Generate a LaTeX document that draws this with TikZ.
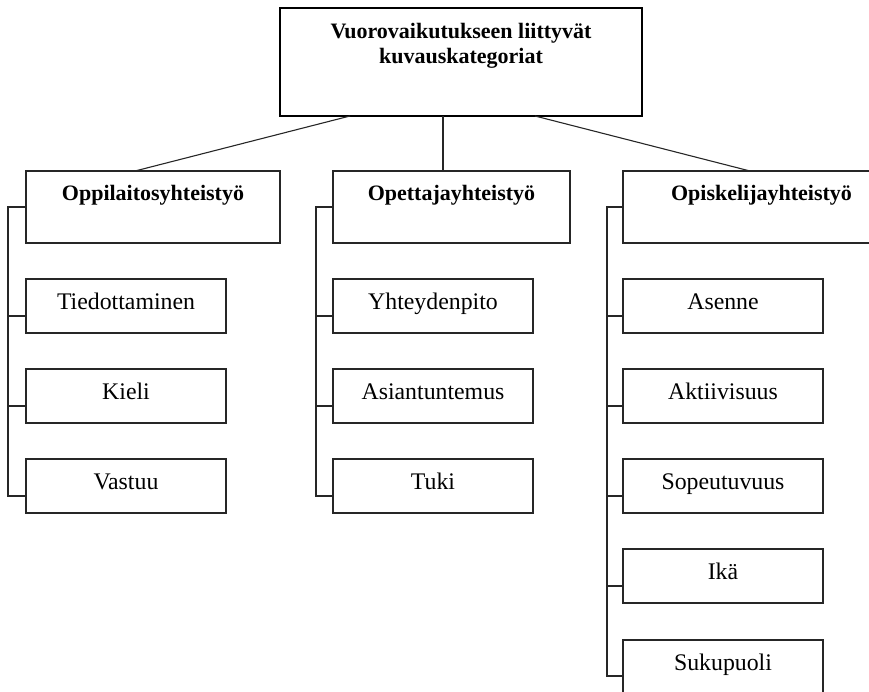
\documentclass[tikz,border=0pt]{standalone}
\usepackage{fontspec}
\setmainfont{Liberation Serif}
\begin{document}
\begin{tikzpicture}[x=1pt,y=-1pt,
  line join=miter,
  boxshape/.style={draw=black!85, line width=1.1pt, rectangle, inner sep=0pt, outer sep=0pt},
  topbox/.style={boxshape, line width=2.8pt, draw=black, minimum width=362pt, minimum height=108pt},
  groupbox/.style={boxshape, minimum height=72pt},
  itembox/.style={boxshape, minimum width=200pt, minimum height=54pt},
  txt/.style={anchor=base, inner sep=0pt, font=\fontsize{23.8}{27}\selectfont},
  btxt/.style={txt, font=\fontsize{22}{26}\selectfont\bfseries},
  wire/.style={draw=black!85, line width=1.1pt}]
\useasboundingbox (0,0) rectangle (869,691);
\clip (0,0) rectangle (869,691);

% main category
\node[topbox] (top) at (461,62) {};
\node[btxt] at ([yshift=-30pt]top.north) {Vuorovaikutukseen liittyvät};
\node[btxt] at ([yshift=-55pt]top.north) {kuvauskategoriat};

% three groups
\node[groupbox, minimum width=254pt] (A) at (153,207) {};
\node[groupbox, minimum width=237pt] (B) at (451.5,207) {};
\node[groupbox, minimum width=277pt] (C) at (761.5,207) {};
\node[btxt] at ([yshift=-29pt]A.north) {Oppilaitosyhteistyö};
\node[btxt] at ([yshift=-29pt]B.north) {Opettajayhteistyö};
\node[btxt] at ([yshift=-29pt]C.north) {Opiskelijayhteistyö};

% connectors from the main box
\draw[wire] ([xshift=-111pt]top.south) -- ([xshift=-18pt]A.north);
\draw[wire] ([xshift=-18pt]top.south) -- ([xshift=-8.5pt]B.north);
\draw[wire] ([xshift=74pt]top.south) -- ([xshift=-11.5pt]C.north);

% items
\foreach \name/\x/\y/\t in {a1/126/306/Tiedottaminen, a2/126/396/Kieli, a3/126/486/Vastuu,
    b1/433/306/Yhteydenpito, b2/433/396/Asiantuntemus, b3/433/486/Tuki,
    c1/723/306/Asenne, c2/723/396/Aktiivisuus, c3/723/486/Sopeutuvuus,
    c4/723/576/Ikä, c5/723/667/Sukupuoli}{
  \node[itembox] (\name) at (\x,\y) {};
  \node[txt] at ([yshift=-30pt]\name.north) {\t};
}

% side buses
\draw[wire] (A.west) -- ++(-18,0) |- ([yshift=-37pt]a3.north west);
\draw[wire] ([yshift=-37pt]a1.north west) -- ++(-18,0);
\draw[wire] ([yshift=-37pt]a2.north west) -- ++(-18,0);

\draw[wire] (B.west) -- ++(-17,0) |- ([yshift=-37pt]b3.north west);
\draw[wire] ([yshift=-37pt]b1.north west) -- ++(-17,0);
\draw[wire] ([yshift=-37pt]b2.north west) -- ++(-17,0);

\draw[wire] (C.west) -- ++(-16,0) |- ([yshift=-36pt]c5.north west);
\draw[wire] ([yshift=-37pt]c1.north west) -- ++(-16,0);
\draw[wire] ([yshift=-37pt]c2.north west) -- ++(-16,0);
\draw[wire] ([yshift=-37pt]c3.north west) -- ++(-16,0);
\draw[wire] ([yshift=-37pt]c4.north west) -- ++(-16,0);
\end{tikzpicture}
\end{document}
